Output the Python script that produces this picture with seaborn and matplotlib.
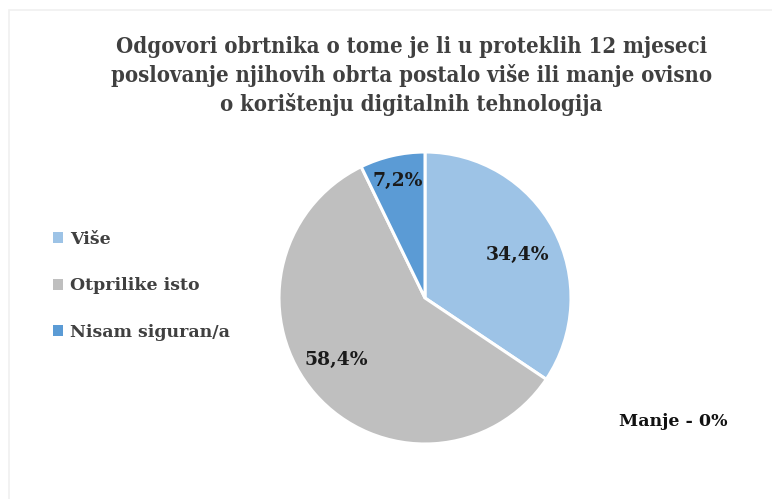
import numpy as np
import matplotlib
matplotlib.use('Agg')
import matplotlib.pyplot as plt
import seaborn as sns
from matplotlib.patches import Patch, Rectangle

TITLE = ('Odgovori obrtnika o tome je li u proteklih 12 mjeseci\n'
         'poslovanje njihovih obrta postalo više ili manje ovisno\n'
         'o korištenju digitalnih tehnologija')
CATEGORIES = ['Više', 'Otprilike isto', 'Nisam siguran/a']
SHARES = [34.4, 58.4, 7.2]
COLORS = ['#9DC3E6', '#BFBFBF', '#5B9BD5']
NOTE = 'Manje - 0%'

sns.set_theme(style='white')
plt.rcParams['font.family'] = ['DejaVu Serif', 'Liberation Serif']

fig = plt.figure(figsize=(7.72, 4.99), dpi=100)
# faint chart-area border (only left and top edges visible)
fig.patches.append(Rectangle((9 / 772, -0.1), 1.2, 1 - 10 / 499 + 0.1, transform=fig.transFigure,
                             fill=False, edgecolor='#F0F0F0', lw=1.2))

ax = fig.add_axes([279 / 772, 55 / 499, 292 / 772, 292 / 499])
wedges, _ = ax.pie(SHARES, colors=COLORS, startangle=90, counterclock=False,
                   radius=1, wedgeprops=dict(edgecolor='white', linewidth=2.2))
ax.set_xlim(-1, 1); ax.set_ylim(-1, 1); ax.set_aspect('equal')

# label placement: radial fraction and small angular tweak per slice
radial = [0.70, 0.74, 0.82]
tweak = [-3, -6, 0]
for w, v, r, t in zip(wedges, SHARES, radial, tweak):
    ang = np.deg2rad((w.theta1 + w.theta2) / 2 + t)
    ax.text(r * np.cos(ang), r * np.sin(ang), f'{v:.1f}%'.replace('.', ','),
            ha='center', va='center', fontsize=13.5, fontweight='bold', color='#1a1a1a')

fig.text(0.533, 1 - 76 / 499, TITLE, ha='center', va='center', fontsize=15.8,
         fontweight='bold', fontstretch='condensed', color='#404040', linespacing=1.36)

handles = [Patch(facecolor=c, edgecolor='none') for c in COLORS]
fig.legend(handles, CATEGORIES, loc='center left', bbox_to_anchor=(37 / 772, 1 - 286 / 499),
           frameon=False, handlelength=0.6, handleheight=0.6, handletextpad=0.4,
           labelspacing=1.7, prop=dict(size=12.5, weight='bold'), labelcolor='#404040')

fig.text(673 / 772, 1 - 422 / 499, NOTE, ha='center', va='center', fontsize=12.5,
         fontweight='bold', color='#111111')

fig.savefig('out.png', dpi=100)
